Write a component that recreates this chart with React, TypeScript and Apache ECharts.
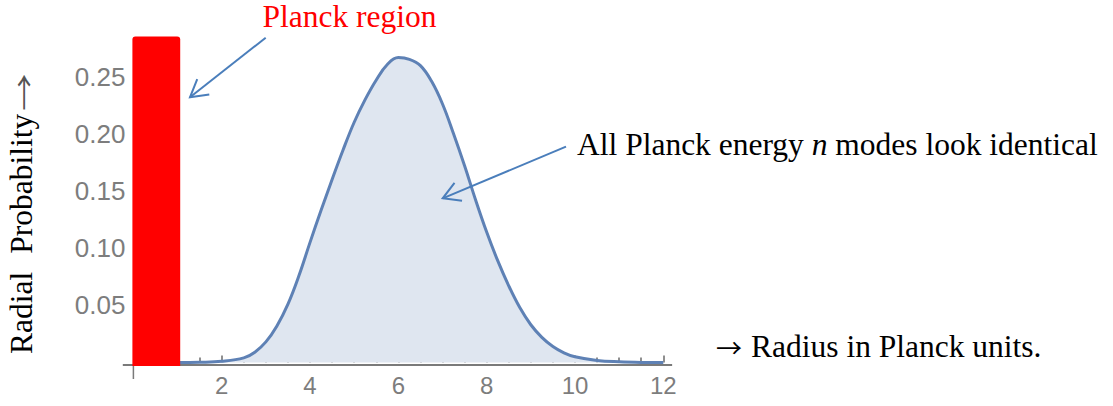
import React, { useEffect, useRef } from "react";
import * as echarts from "echarts";

// ---- data ----
const radius = [0, 0.5, 1, 1.5, 2, 2.5, 2.75, 3, 3.25, 3.5, 3.75, 4, 4.25, 4.5, 4.75, 5, 5.25, 5.5, 5.75, 6, 6.25, 6.5, 6.75, 7, 7.25, 7.5, 7.75, 8, 8.25, 8.5, 8.75, 9, 9.25, 9.5, 9.75, 10, 10.5, 11, 11.5, 12];
const probability = [0, 0, 0, 0.0002, 0.001, 0.004, 0.009, 0.018, 0.032, 0.051, 0.076, 0.105, 0.133, 0.16, 0.186, 0.21, 0.23, 0.247, 0.2605, 0.2665, 0.265, 0.2595, 0.246, 0.226, 0.2, 0.172, 0.142, 0.114, 0.089, 0.067, 0.048, 0.033, 0.022, 0.014, 0.0085, 0.005, 0.0018, 0.0006, 0.0001, 0];
const planckRegionStart = [0];
const planckRegionEnd = [1.06];
const planckRegionHeight = [0.285];
const xTickLabels = ["2", "4", "6", "8", "10", "12"];
const yTickLabels = ["0.05", "0.10", "0.15", "0.20", "0.25"];

const planckLabel = "Planck region";
const modesLabelParts = ["All Planck energy ", "n ", "modes look identical"];
const radiusLabel = "Radius in Planck units.";
const yLabelParts = ["Radial", "Probability"];

const SERIF = "'Liberation Serif', 'Times New Roman', serif";
const SANS = "'Liberation Sans', Arial, sans-serif";
const ARROWFONT = "'Noto Sans CJK JP', 'DejaVu Sans', sans-serif";
const ARROW_BLUE = "#4a7ebb";
const AXIS_GRAY = "#7a7a7a";

function arrowShapes(x1: number, y1: number, x2: number, y2: number) {
  const ang = Math.atan2(y1 - y2, x1 - x2);
  const len = 19.5;
  const spread = Math.PI / 6;
  const w1 = [x2 + len * Math.cos(ang + spread), y2 + len * Math.sin(ang + spread)];
  const w2 = [x2 + len * Math.cos(ang - spread), y2 + len * Math.sin(ang - spread)];
  return [
    { type: "line", z: 20, shape: { x1, y1, x2, y2 }, style: { stroke: ARROW_BLUE, lineWidth: 2 } },
    { type: "polyline", z: 20, shape: { points: [w1, [x2, y2], w2] }, style: { stroke: ARROW_BLUE, lineWidth: 2, fill: "none" } },
  ];
}

export default function App() {
  const ref = useRef<HTMLDivElement>(null);

  useEffect(() => {
    if (!ref.current) return;
    const chart = echarts.init(ref.current, null, { renderer: "svg" });

    const option: any = {
      animation: false,
      backgroundColor: "#ffffff",
      grid: { left: 133.4, right: 449.7, top: 19.3, bottom: 43.5, outerBoundsMode: "none" },
      xAxis: {
        type: "value",
        min: 0,
        max: 12,
        interval: 2,
        offset: 2.5,
        axisLine: { show: false },
        axisTick: { show: true, inside: true, length: 7, lineStyle: { color: "#6a6a6a", width: 1.5 } },
        minorTick: { show: true, splitNumber: 4, length: 5, lineStyle: { color: "#6a6a6a", width: 1.5 } },
        splitLine: { show: false },
        minorSplitLine: { show: false },
        axisLabel: {
          margin: 8,
          fontSize: 24,
          fontFamily: SANS,
          color: "#7d7d7d",
          formatter: (v: number) => (xTickLabels.includes(String(v)) ? String(v) : ""),
        },
      },
      yAxis: {
        type: "value",
        min: 0,
        max: 0.3,
        interval: 0.05,
        axisLine: { show: false },
        axisTick: { show: false },
        splitLine: { show: false },
        axisLabel: {
          margin: 8,
          fontSize: 26,
          fontFamily: SANS,
          color: "#7d7d7d",
          formatter: (v: number) => {
            const s = v.toFixed(2);
            return yTickLabels.includes(s) ? s : "";
          },
        },
      },
      series: [
        {
          type: "line",
          data: radius.map((r, i) => [r, probability[i]]),
          smooth: 0.4,
          showSymbol: false,
          lineStyle: { color: "#5e81b5", width: 3 },
          areaStyle: { color: "#dfe6f0", opacity: 1 },
          z: 2,
        },
        {
          type: "custom",
          z: 5,
          data: planckRegionStart.map((s, i) => [s, planckRegionEnd[i], planckRegionHeight[i]]),
          renderItem: (params: any, api: any) => {
            const p0 = api.coord([api.value(0), api.value(2)]);
            const p1 = api.coord([api.value(1), 0]);
            return {
              type: "rect",
              shape: { x: p0[0] - 1, y: p0[1], width: p1[0] - p0[0] + 1, height: p1[1] - p0[1] + 3.5, r: [3, 3, 0, 0] },
              style: { fill: "#ff0000" },
            };
          },
        },
      ],
    };
    chart.setOption(option);

    const toPx = (x: number, y: number) => chart.convertToPixel({ gridIndex: 0 }, [x, y]) as number[];
    const o = toPx(0, 0);
    const axisY = o[1] + 2.5;
    const left = toPx(-0.24, 0)[0];
    const right = toPx(12.2, 0)[0];

    const graphics: any[] = [
      { type: "line", z: 1, shape: { x1: left, y1: axisY, x2: right, y2: axisY }, style: { stroke: AXIS_GRAY, lineWidth: 2 } },
      { type: "line", z: 1, shape: { x1: o[0], y1: axisY, x2: o[0], y2: axisY + 14 }, style: { stroke: AXIS_GRAY, lineWidth: 1.5 } },
      {
        type: "text",
        z: 20,
        x: 262.5,
        y: 16.4,
        style: { text: planckLabel, fill: "#ff0000", fontSize: 31.5, fontFamily: SERIF, align: "left", verticalAlign: "middle" },
      },
      ...arrowShapes(265.7, 37.7, 190, 97.3),
      ...arrowShapes(566, 146.7, 442.7, 198.3),
      {
        type: "text",
        z: 20,
        x: 577,
        y: 144.4,
        style: {
          text: `{r|${modesLabelParts[0]}}{i|${modesLabelParts[1]}}{r|${modesLabelParts[2]}}`,
          fill: "#000",
          fontSize: 31.5,
          fontFamily: SERIF,
          align: "left",
          verticalAlign: "middle",
          rich: {
            r: { fontSize: 31.5, fontFamily: SERIF, fill: "#000" },
            i: { fontSize: 31.5, fontFamily: SERIF, fontStyle: "italic", fill: "#000" },
          },
        },
      },
      {
        type: "text",
        z: 20,
        x: 716,
        y: 346,
        style: {
          text: `{a|→}{r|${radiusLabel}}`,
          fill: "#000",
          fontSize: 31.5,
          fontFamily: SERIF,
          align: "left",
          verticalAlign: "middle",
          rich: {
            a: { fontSize: 26, fontFamily: ARROWFONT, fill: "#000", width: 35 },
            r: { fontSize: 31.5, fontFamily: SERIF, fill: "#000" },
          },
        },
      },
      {
        type: "text",
        z: 20,
        x: 21.9,
        y: 354,
        rotation: Math.PI / 2,
        style: {
          text: `{r|${yLabelParts[0]}}{s| }{r|${yLabelParts[1]}}`,
          fill: "#000",
          fontSize: 31.5,
          fontFamily: SERIF,
          align: "left",
          verticalAlign: "middle",
          rich: {
            r: { fontSize: 31.5, lineHeight: 34, fontFamily: SERIF, fill: "#000" },
            s: { fontSize: 31.5, lineHeight: 34, fontFamily: SERIF, width: 18 },
          },
        },
      },
      {
        type: "text",
        z: 20,
        x: 22,
        y: 111,
        rotation: Math.PI / 2,
        scaleX: 1.45,
        style: { text: "→", fill: "#555", fontSize: 26, fontFamily: ARROWFONT, align: "left", verticalAlign: "middle" },
      },
    ];
    chart.setOption({ graphic: graphics });

    return () => chart.dispose();
  }, []);

  return <div ref={ref} style={{ position: "fixed", left: 0, top: 0, width: 1113, height: 406 }} />;
}
